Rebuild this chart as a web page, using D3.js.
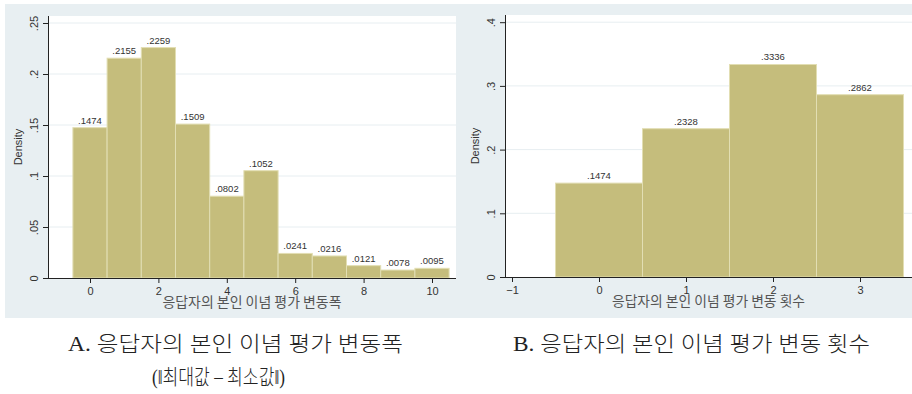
<!DOCTYPE html>
<html>
<head>
<meta charset="utf-8">
<script src="https://cdn.jsdelivr.net/npm/d3@7"></script>
<style>
body{margin:0;background:#fff;}
svg{display:block;}
</style>
</head>
<body>
<svg id="chart" width="912" height="394"></svg>
<script>
// panel A : range of self placement (max - min)
var rangeBins = [0,1,2,3,4,5,6,7,8,9,10]
var rangeDensity = [.1474,.2155,.2259,.1509,.0802,.1052,.0241,.0216,.0121,.0078,.0095]
var rangeXTicks = [0,2,4,6,8,10]
var rangeYTicks = [0,.05,.1,.15,.2,.25]
var rangeYLabels = ["0",".05",".1",".15",".2",".25"]

// panel B : number of changes
var countBins = [0,1,2,3]
var countDensity = [.1474,.2328,.3336,.2862]
var countXTicks = [-1,0,1,2,3]
var countYTicks = [0,.1,.2,.3,.4]
var countYLabels = ["0",".1",".2",".3",".4"]

var xTitleA = "응답자의 본인 이념 평가 변동폭"
var xTitleB = "응답자의 본인 이념 평가 변동 횟수"
var captionA1 = "A. 응답자의 본인 이념 평가 변동폭"
var captionA2 = "(‖최대값 – 최소값‖)"
var captionB = "B. 응답자의 본인 이념 평가 변동 횟수"

var svg = d3.select("#chart")
var fmt = function(v){return d3.format(".4f")(v).replace(/^0/,"")}

// grey stata background
svg.append("rect")
    .attr("x",5).attr("y",4)
    .attr("width",907).attr("height",314)
    .attr("fill","#e8eff2")

var drawPanel = function(p)
{
    var xScale = d3.scaleLinear().domain(p.xDomain).range([p.left,p.right])
    var yScale = d3.scaleLinear().domain(p.yDomain).range([p.bottom,p.bottom-(p.yDomain[1]*p.yUnit)])
    var g = svg.append("g")

    g.append("rect")
        .attr("x",p.left).attr("y",p.top)
        .attr("width",p.right-p.left).attr("height",p.bottom-p.top)
        .attr("fill","#fff")

    // grid
    g.selectAll(".grid")
        .data(p.yTicks.filter(function(d){return d>0}))
        .enter()
        .append("line")
        .attr("x1",p.left).attr("x2",p.right)
        .attr("y1",function(d){return yScale(d)})
        .attr("y2",function(d){return yScale(d)})
        .attr("stroke","#e7eef1")
        .attr("stroke-width",1)

    // bars
    g.selectAll(".bar")
        .data(p.bins)
        .enter()
        .append("rect")
        .attr("x",function(d){return xScale(d-0.5)})
        .attr("width",function(d){return xScale(d+0.5)-xScale(d-0.5)})
        .attr("y",function(d,i){return yScale(p.density[i])})
        .attr("height",function(d,i){return yScale(0)-yScale(p.density[i])})
        .attr("fill","#c5bd7c")
        .attr("stroke","#e2deb3")
        .attr("stroke-width",1)

    g.selectAll(".blabel")
        .data(p.bins)
        .enter()
        .append("text")
        .attr("x",function(d){return xScale(d)})
        .attr("y",function(d,i){return yScale(p.density[i])-4})
        .attr("text-anchor","middle")
        .attr("font-family","Liberation Sans, Arial, sans-serif")
        .attr("font-size",9.5)
        .attr("fill","#333")
        .text(function(d,i){return fmt(p.density[i])})

    // axes
    var xAxis = d3.axisBottom(xScale).tickValues(p.xTicks).tickSize(5).tickPadding(4)
        .tickFormat(d3.format("d"))
    var yAxis = d3.axisLeft(yScale).tickValues(p.yTicks).tickSize(5)
        .tickFormat(function(d,i){return p.yLabels[i]})

    var ax = g.append("g")
        .attr("transform","translate(0,"+yScale(0)+")")
        .call(xAxis)
    ax.select(".domain").attr("d","M"+p.left+",0.5H"+p.right).attr("stroke","#222")
    ax.selectAll("line").attr("stroke","#222")
    ax.selectAll("text")
        .attr("font-family","Liberation Sans, Arial, sans-serif")
        .attr("font-size",11).attr("fill","#333")

    var ay = g.append("g")
        .attr("transform","translate("+p.left+",0)")
        .call(yAxis)
    ay.select(".domain").attr("d","M0.5,"+p.top+"V"+yScale(0)).attr("stroke","#222")
    ay.selectAll("line").attr("stroke","#222")
    ay.selectAll("text")
        .attr("font-family","Liberation Sans, Arial, sans-serif")
        .attr("font-size",11).attr("fill","#333")
        .attr("x",null).attr("dy",null)
        .attr("text-anchor","middle")
        .attr("transform",function(){return "translate(-10,0) rotate(-90)"})

    g.append("text")
        .attr("transform","translate("+(p.left-26)+","+((p.top+p.bottom)/2)+") rotate(-90)")
        .attr("text-anchor","middle")
        .attr("font-family","Liberation Sans, Arial, sans-serif")
        .attr("font-size",11).attr("fill","#333")
        .text("Density")

    g.append("text")
        .attr("x",(p.left+p.right)/2)
        .attr("y",yScale(0)+29)
        .attr("text-anchor","middle")
        .attr("textLength",p.titleW)
        .attr("lengthAdjust","spacingAndGlyphs")
        .attr("font-family","Noto Sans CJK KR, sans-serif")
        .attr("font-size",13.5).attr("fill","#555")
        .text(p.xTitle)
}

drawPanel({
    left:48,right:456,top:16,bottom:278,yUnit:1020,
    xDomain:[(48-90)/34.2,(456-90)/34.2],yDomain:[0,.25],
    bins:rangeBins,density:rangeDensity,xTicks:rangeXTicks,
    yTicks:rangeYTicks,yLabels:rangeYLabels,xTitle:xTitleA,titleW:179
})
drawPanel({
    left:505,right:912,top:15,bottom:277,yUnit:637,
    xDomain:[(505-599)/87,(912-599)/87],yDomain:[0,.4],
    bins:countBins,density:countDensity,xTicks:countXTicks,
    yTicks:countYTicks,yLabels:countYLabels,xTitle:xTitleB,titleW:193
})

// captions (latin in serif, hangul falls back to CJK)
var caps = [
    {t:captionA1,x:68,y:351,w:335},
    {t:captionA2,x:152,y:384,w:133},
    {t:captionB,x:513,y:351,w:357}
]
svg.selectAll(".cap")
    .data(caps)
    .enter()
    .append("text")
    .attr("x",function(d){return d.x})
    .attr("y",function(d){return d.y})
    .attr("textLength",function(d){return d.w})
    .attr("lengthAdjust","spacingAndGlyphs")
    .attr("font-family","Liberation Serif, DejaVu Serif, Noto Sans CJK KR, serif")
    .attr("font-weight",300)
    .attr("font-size",21)
    .attr("fill","#222")
    .text(function(d){return d.t})
</script>
</body>
</html>
